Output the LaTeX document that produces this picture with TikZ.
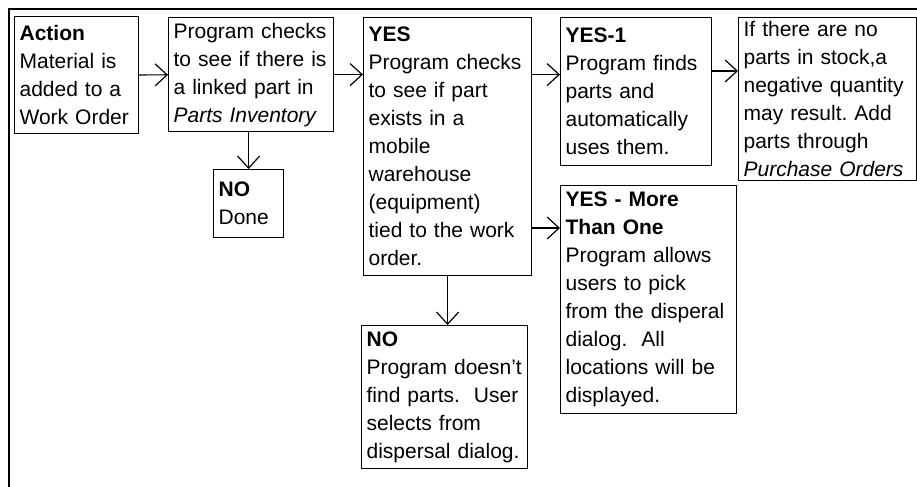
\documentclass[tikz,border=0pt]{standalone}
\usepackage{fontspec}
\setmainfont{Liberation Sans}
\usetikzlibrary{arrows.meta}
\frenchspacing
\tikzset{
  box/.style={draw, line width=0.6pt, anchor=north west, align=left, inner xsep=2.5pt, inner ysep=1pt,
    font=\fontsize{10.5}{14}\selectfont},
  flow/.style={line width=0.6pt, -{Straight Barb[length=6pt,width=11pt]}}
}
\begin{document}
\begin{tikzpicture}[x=0.5pt, y=-0.5pt]
            \useasboundingbox (0,0) rectangle (917,487);
            % frame
            \draw[line width=1.1pt] (9,487) -- (9,9) -- (917,9);
            % boxes
            \node[box, text width=57pt, minimum width=62pt, minimum height=58.5pt] (act) at (14,16)
              {\textbf{Action}\\Material is\\added to a\\Work Order};
            \node[box, text width=77.5pt, minimum width=82.5pt, minimum height=57pt] (chk) at (168,17)
              {Program checks\\to see if there is\\a linked part in\\\textit{Parts Inventory}};
            \node[box, text width=30pt, minimum width=35pt, minimum height=34pt] (done) at (213,169)
              {\textbf{NO}\\Done};
            \node[box, text width=79pt, minimum width=84pt, minimum height=129pt] (yes) at (363,17)
              {\textbf{YES}\\Program checks\\to see if part\\exists in a\\mobile\\warehouse\\(equipment)\\tied to the work\\order.};
            \node[box, text width=70.5pt, minimum width=75.5pt, minimum height=74pt] (yes1) at (560,17)
              {\textbf{YES-1}\\Program finds\\parts and\\automatically\\uses them.};
            \node[box, text width=84pt, minimum width=89pt, minimum height=81.5pt] (stock) at (738,17)
              {If there are no\\parts in stock,a\\negative quantity\\may result. Add\\parts through\\\textit{Purchase Orders}};
            \node[box, text width=83pt, minimum width=88pt, minimum height=114pt] (more) at (560,185)
              {\textbf{YES - More}\\\textbf{Than One}\\Program allows\\users to pick\\from the disperal\\dialog.\ \ All\\locations will be\\displayed.};
            \node[box, text width=78pt, minimum width=83pt, minimum height=71.5pt] (nofind) at (361,325)
              {\textbf{NO}\\Program doesn't\\find parts.\ \ User\\selects from\\dispersal dialog.};

            \draw[flow] (act) -- (chk);
            \draw[flow] (chk.east) -- (chk.east -| yes.west);
            \draw[flow] (chk.east -| yes.east) -- (chk.east -| yes1.west);
            \draw[flow] ([yshift=-27pt]yes1.north east) -- ([yshift=-27pt]yes1.north east -| stock.west);
            \draw[flow] ([yshift=-105.5pt]yes.north east) -- ([yshift=-105.5pt]yes.north east -| more.west);
            \draw[flow] (done.north |- chk.south) -- (done.north);
            \draw[flow] (yes.south) -- (yes.south |- nofind.north);
        \end{tikzpicture}
\end{document}
